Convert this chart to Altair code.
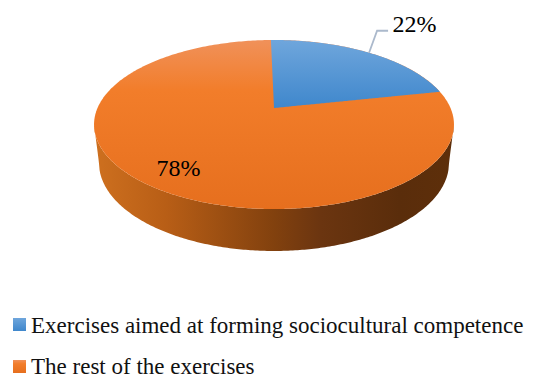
import numpy as np
import pandas as pd
import altair as alt

# Chart values
categories = ["Exercises aimed at forming sociocultural competence", "The rest of the exercises"]
shares = [22, 78]

# Perspective of the tilted disc: a circle seen from above and in front,
# so its centre sits above the middle of the ellipse it projects to.
CX, RADIUS, CENTRE_Y = 274.0, 176.5, 108.0
RIM_TOP, RIM_BOTTOM = 40.0, 209.0
K = (CENTRE_Y * 2 - (RIM_TOP + RIM_BOTTOM)) / (RIM_TOP - RIM_BOTTOM)
A = RIM_TOP * (1 + K) - CENTRE_Y
START_DEG = -1.2


def rim(theta_deg):
    """Screen position of the disc rim at a clockwise angle from twelve o'clock."""
    t = np.radians(theta_deg)
    w = 1 + K * np.cos(t)
    return CX + RADIUS * np.sin(t) / w, (CENTRE_Y + A * np.cos(t)) / w


# Outline of the whole top face, which projects to a true ellipse
rx = RADIUS / np.sqrt(1 - K ** 2)
cy = (RIM_TOP + RIM_BOTTOM) / 2
ry = (RIM_BOTTOM - RIM_TOP) / 2
phi = np.radians(np.linspace(-90, 90, 241))
face = pd.DataFrame({
    "x": CX + rx * np.sin(phi),
    "y": cy - ry * np.cos(phi),
    "y2": cy + ry * np.cos(phi),
})

# Blue slice: upper edge follows the rim, lower edge runs through the disc centre
end_deg = START_DEG + shares[0] / sum(shares) * 360
slice_x, slice_y = rim(np.linspace(START_DEG, end_deg, 120))
x_start, y_start = rim(START_DEG)
x_end, y_end = rim(end_deg)
slice_x = np.sort(np.append(slice_x, CX))
upper = np.interp(slice_x, *rim(np.linspace(START_DEG, end_deg, 120)))
lower = np.interp(slice_x, [x_start, CX, x_end], [y_start, CENTRE_Y, y_end])
blue_slice = pd.DataFrame({"x": slice_x, "y": upper, "y2": lower})

# Visible wall under the near half of the disc, with a slightly narrower base
BASE_RX, BASE_CY, BASE_RY = 175.0, 163.0, 88.0
wall = face[["x", "y2"]].rename(columns={"y2": "y"}).copy()
d = (wall["x"] - CX).abs()
inside = np.sqrt(np.clip(1 - (d / BASE_RX) ** 2, 0, None))
wall["y2"] = np.where(d <= BASE_RX, BASE_CY + BASE_RY * inside,
                      cy + (BASE_CY - cy) * (rx - d) / (rx - BASE_RX))

# Leader from the middle of the blue slice to its label
mid_x, mid_y = rim((START_DEG + end_deg) / 2)
leader = pd.DataFrame({
    "x": [mid_x, mid_x + 8, mid_x + 19],
    "y": [mid_y, mid_y - 22, mid_y - 22],
    "o": [0, 1, 2],
})

value_labels = pd.DataFrame({
    "x": [392.5, 156.5],
    "y": [31.5, 176.0],
    "t": [f"{v}%" for v in shares],
})
legend_rows = pd.DataFrame({
    "x": [31, 31],
    "y": [332.5, 373.5],
    "t": categories,
})
legend_boxes = pd.DataFrame({
    "x": [13, 13], "x2": [26, 26],
    "y": [318, 360], "y2": [331, 373],
})

X = alt.X("x:Q", axis=None, scale=alt.Scale(domain=[0, 544], range=[0, 544], nice=False, zero=False))
Y = alt.Y("y:Q", axis=None, scale=alt.Scale(domain=[0, 374], range=[0, 374], nice=False, zero=False))


def vertical(*stops):
    return alt.Gradient(
        gradient="linear", x1=0, x2=0, y1=0, y2=1,
        stops=[alt.GradientStop(offset=o, color=c) for o, c in stops],
    )


def horizontal(*stops):
    return alt.Gradient(
        gradient="linear", x1=0, x2=1, y1=0, y2=0,
        stops=[alt.GradientStop(offset=o, color=c) for o, c in stops],
    )


ORANGE_FILL = vertical((0, "#F0915A"), (0.3, "#F27D2A"), (1, "#E66F1E"))
BLUE_FILL = vertical((0, "#6FA6DC"), (1, "#3F87CC"))

wall_layer = alt.Chart(wall).mark_area(
    color=horizontal((0, "#CE701F"), (0.2, "#B85E16"), (0.5, "#82410E"),
                     (0.63, "#6B3510"), (0.85, "#5A2D0B"), (1, "#5E2F0A")),
    interpolate="linear",
).encode(x=X, y=Y, y2="y2:Q")

face_layer = alt.Chart(face).mark_area(color=ORANGE_FILL).encode(x=X, y=Y, y2="y2:Q")
slice_layer = alt.Chart(blue_slice).mark_area(color=BLUE_FILL).encode(x=X, y=Y, y2="y2:Q")

leader_layer = alt.Chart(leader).mark_line(color="#ABB9CC", strokeWidth=1.8).encode(
    x=X, y=Y, order="o:Q"
)

value_text = alt.Chart(value_labels).mark_text(
    font="Liberation Serif", fontSize=24, align="left", baseline="alphabetic", color="#000000"
).encode(x=X, y=Y, text="t:N")

legend_text = alt.Chart(legend_rows).mark_text(
    font="Liberation Serif", fontSize=23, align="left", baseline="alphabetic", color="#111111"
).encode(x=X, y=Y, text="t:N")

box_blue = alt.Chart(legend_boxes.iloc[[0]]).mark_rect(color=BLUE_FILL).encode(
    x=X, x2="x2:Q", y=Y, y2="y2:Q"
)
box_orange = alt.Chart(legend_boxes.iloc[[1]]).mark_rect(color=ORANGE_FILL).encode(
    x=X, x2="x2:Q", y=Y, y2="y2:Q"
)

chart = alt.layer(
    wall_layer, face_layer, slice_layer, leader_layer, value_text,
    box_blue, box_orange, legend_text,
).properties(
    width=544, height=374, padding=0, background="white",
    autosize=alt.AutoSizeParams(type="none"),
).configure_view(stroke=None)

chart.save("out.html", embed_options={"renderer": "svg", "actions": False})
